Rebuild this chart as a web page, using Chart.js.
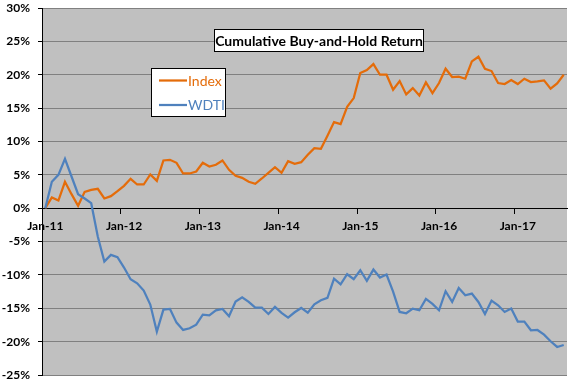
<!DOCTYPE html>
<html>
<head>
<meta charset="utf-8">
<script src="https://cdn.jsdelivr.net/npm/chart.js@4.4.1/dist/chart.umd.min.js"></script>
<style>
    html, body { margin: 0; padding: 0; background: #ffffff; }
    #wrap { width: 576px; height: 384px; }
</style>
</head>
<body>
<div id="wrap"><canvas id="returnChart" width="576" height="384"></canvas></div>
<script>
const chartTitle = 'Cumulative Buy-and-Hold Return';
const seriesNames = ['Index', 'WDTI'];
const monthNames = ['Jan', 'Feb', 'Mar', 'Apr', 'May', 'Jun', 'Jul', 'Aug', 'Sep', 'Oct', 'Nov', 'Dec'];
const yearLabels = ['11', '12', '13', '14', '15', '16', '17'];

// cumulative return in %, monthly, Jan-11 .. Aug-17
const indexReturn = [
    0, 1.6, 1.15, 3.95, 2.1, 0.35, 2.45, 2.75, 2.9, 1.45, 1.8, 2.55,
    3.35, 4.4, 3.55, 3.55, 5.05, 4.1, 7.15, 7.25, 6.8, 5.2, 5.2, 5.5,
    6.8, 6.25, 6.5, 7.15, 5.75, 4.85, 4.55, 3.95, 3.65, 4.45, 5.3, 6.15,
    5.3, 7.05, 6.65, 6.9, 8.0, 9.0, 8.9, 10.85, 12.9, 12.6, 15.2, 16.5,
    20.25, 20.7, 21.6, 20.0, 20.0, 17.75, 19.05, 17.05, 18.0, 16.9, 18.85, 17.25,
    18.75, 20.9, 19.65, 19.7, 19.4, 22.0, 22.7, 20.9, 20.55, 18.75, 18.6, 19.2,
    18.6, 19.4, 18.9, 19.0, 19.15, 17.9, 18.7, 20.0
];
const wdtiReturn = [
    0, 3.95, 5.0, 7.4, 4.75, 2.1, 1.45, 0.75, -4.25, -8.0, -7.0, -7.35,
    -8.9, -10.65, -11.25, -12.35, -14.45, -18.5, -15.2, -15.1, -17.15, -18.25, -18.0, -17.45,
    -15.95, -16.05, -15.3, -15.1, -16.2, -14.0, -13.35, -14.05, -14.9, -14.9, -15.85, -14.8,
    -15.7, -16.4, -15.6, -14.95, -15.65, -14.4, -13.8, -13.45, -10.55, -11.4, -9.9, -10.65,
    -9.3, -10.9, -9.2, -10.4, -9.95, -12.5, -15.55, -15.75, -15.05, -15.3, -13.6, -14.35,
    -15.3, -12.45, -14.05, -11.95, -13.05, -12.8, -14.05, -15.85, -13.85, -14.55, -15.55, -15.05,
    -17.0, -17.0, -18.3, -18.25, -18.95, -19.95, -20.8, -20.5
];

const monthLabels = [];
yearLabels.forEach(yr => monthNames.forEach(m => monthLabels.push(m + '-' + yr)));
const labels = monthLabels.slice(0, indexReturn.length);

const orange = '#e46c0a';
const blue = '#4f81bd';
const fontFamily = 'Lato, "Liberation Sans", sans-serif';

const isJan = (i) => labels[i] !== undefined && labels[i].startsWith('Jan');

// grey plot area like the excel chart
const plotBackground = {
    id: 'plotBackground',
    beforeDraw(chart) {
        const { ctx, chartArea } = chart;
        ctx.save();
        ctx.fillStyle = '#c0c0c0';
        ctx.fillRect(chartArea.left, chartArea.top, chartArea.right - chartArea.left, chartArea.bottom - chartArea.top);
        ctx.restore();
    }
};

// title box and legend box drawn inside the plot
const boxes = {
    id: 'boxes',
    afterDraw(chart) {
        const ctx = chart.ctx;
        ctx.save();

        // title
        ctx.fillStyle = '#ffffff';
        ctx.fillRect(214.5, 29.5, 209, 22);
        ctx.strokeStyle = '#000000';
        ctx.lineWidth = 1;
        ctx.strokeRect(214.5, 29.5, 209, 22);
        ctx.font = 'bold 14px ' + fontFamily;
        ctx.fillStyle = '#000000';
        ctx.textAlign = 'center';
        ctx.textBaseline = 'middle';
        ctx.fillText(chartTitle, 319, 41);

        // legend
        ctx.fillStyle = '#ffffff';
        ctx.fillRect(151.5, 68.5, 74, 48);
        ctx.strokeRect(151.5, 68.5, 74, 48);
        ctx.textAlign = 'left';
        ctx.font = '14px ' + fontFamily;
        chart.data.datasets.forEach((ds, i) => {
            const y = 80.5 + i * 24.5;
            ctx.strokeStyle = ds.borderColor;
            ctx.lineWidth = 2.25;
            ctx.beginPath();
            ctx.moveTo(159, y);
            ctx.lineTo(187, y);
            ctx.stroke();
            ctx.fillStyle = ds.borderColor;
            ctx.fillText(ds.label, 188, y + 0.5);
        });
        ctx.restore();
    }
};

const ctx = document.getElementById('returnChart').getContext('2d');
const chart = new Chart(ctx, {
    type: 'line',
    data: {
        labels: labels,
        datasets: [
            {
                label: seriesNames[0],
                data: indexReturn,
                borderColor: orange,
                borderWidth: 2.25,
                pointRadius: 0,
                tension: 0,
                order: 1
            },
            {
                label: seriesNames[1],
                data: wdtiReturn,
                borderColor: blue,
                borderWidth: 2.25,
                pointRadius: 0,
                tension: 0,
                order: 0
            }
        ]
    },
    options: {
        responsive: false,
        animation: false,
        layout: {
            padding: { top: 8, right: 9, bottom: 9, left: 0 }
        },
        plugins: {
            legend: { display: false },
            title: { display: false },
            tooltip: { enabled: false }
        },
        scales: {
            x: {
                type: 'category',
                offset: true,
                position: { y: 0 },
                border: { color: '#000000', width: 1 },
                grid: {
                    offset: true,
                    drawOnChartArea: false,
                    drawTicks: true,
                    tickLength: 5,
                    tickColor: (c) => isJan(c.index) ? '#000000' : 'rgba(0,0,0,0)'
                },
                ticks: {
                    autoSkip: false,
                    maxRotation: 0,
                    minRotation: 0,
                    padding: 6,
                    color: '#000000',
                    font: { family: fontFamily, size: 12, weight: 'bold' },
                    callback: function (value, index) {
                        return isJan(index) ? labels[index] : '';
                    }
                }
            },
            y: {
                min: -25,
                max: 30,
                border: { color: '#000000', width: 1 },
                grid: {
                    color: '#808080',
                    lineWidth: 1,
                    tickLength: 4,
                    tickColor: '#000000'
                },
                ticks: {
                    stepSize: 5,
                    padding: 8,
                    color: '#000000',
                    font: { family: fontFamily, size: 12, weight: 'bold' },
                    callback: (v) => v + '%'
                },
                afterFit(scale) {
                    scale.width = 42;
                    scale.paddingTop = 0;
                    scale.paddingBottom = 0;
                }
            }
        }
    },
    plugins: [plotBackground, boxes]
});
</script>
</body>
</html>
